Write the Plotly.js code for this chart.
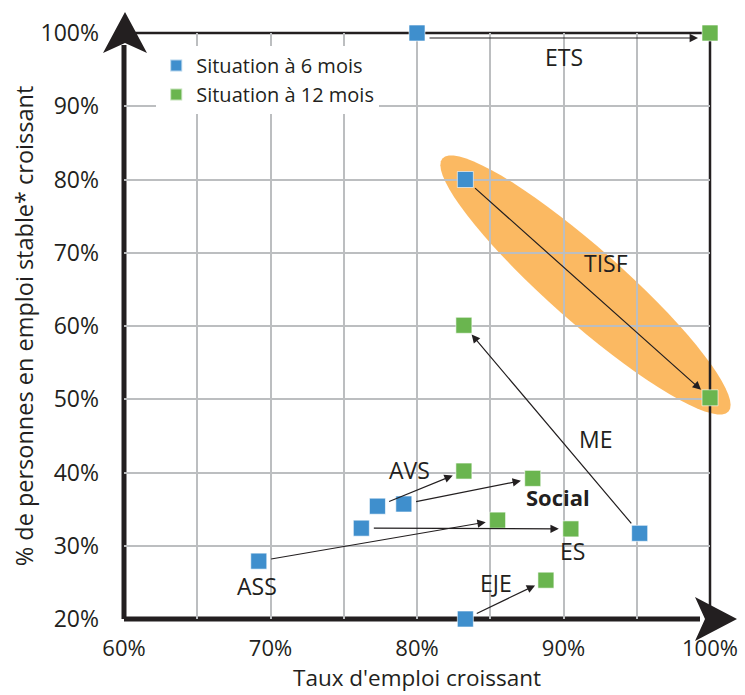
<!DOCTYPE html>
<html>
<head>
<meta charset="utf-8">
<script src="https://cdn.plot.ly/plotly-3.0.1.min.js"></script>
<style>html,body{margin:0;padding:0;background:#fff;}#chart{width:745px;height:695px;}</style>
</head>
<body>
<div id="chart"></div>
<script>
// ---- data ----
const categories = ['ETS', 'TISF', 'ME', 'AVS', 'Social', 'ASS', 'ES', 'EJE'];
const x6  = [80.0, 83.3, 95.2, 77.3, 79.1, 69.2, 76.2, 83.3];
const y6  = [100.0, 80.0, 31.7, 35.4, 35.7, 27.9, 32.4, 20.0];
const x12 = [100.0, 100.0, 83.2, 83.2, 87.9, 85.5, 90.5, 88.8];
const y12 = [100.0, 50.2, 60.1, 40.2, 39.2, 33.5, 32.3, 25.3];
const seriesNames = ['Situation à 6 mois', 'Situation à 12 mois'];
const xTickVals = [60, 70, 80, 90, 100];
const yTickVals = [20, 30, 40, 50, 60, 70, 80, 90, 100];

// ---- layout config ----
const W = 745, H = 695;
const M = {l: 124, r: 35, t: 33, b: 76};
const XR = [60, 100], YR = [20, 100];
const plotW = W - M.l - M.r, plotH = H - M.t - M.b;
const pxX = plotW / (XR[1] - XR[0]), pxY = plotH / (YR[1] - YR[0]);
const txt = '#231f20';
const FONT = 'Open Sans, sans-serif';

const labelPos = {
  ETS: [90.0, 96.7], TISF: [92.9, 68.6], ME: [92.2, 44.6], AVS: [79.5, 40.4],
  Social: [89.6, 36.7], ES: [90.6, 29.3], ASS: [69.1, 24.5], EJE: [85.4, 24.9]
};

const traces = [
  {x: x6, y: y6, text: categories, name: seriesNames[0], type: 'scatter', mode: 'markers',
   cliponaxis: false, hoverinfo: 'text+x+y',
   marker: {symbol: 'square', size: 16, color: '#3f8fcd', line: {color: 'rgba(255,255,255,0.6)', width: 1}}},
  {x: x12, y: y12, text: categories, name: seriesNames[1], type: 'scatter', mode: 'markers',
   cliponaxis: false, hoverinfo: 'text+x+y',
   marker: {symbol: 'square', size: 16, color: '#6ab54f', line: {color: 'rgba(255,255,255,0.6)', width: 1}}}
];

const annotations = [];
categories.forEach((c, i) => {
  annotations.push({
    x: x12[i], y: y12[i], ax: x6[i], ay: y6[i], xref: 'x', yref: 'y', axref: 'x', ayref: 'y',
    text: '', showarrow: true, arrowhead: 2, arrowsize: 1.4, arrowwidth: 1.2, arrowcolor: '#231f20',
    standoff: 12, startstandoff: 11, yshift: c === 'ETS' ? -5 : 0
  });
  annotations.push({
    x: labelPos[c][0], y: labelPos[c][1], xref: 'x', yref: 'y', showarrow: false,
    text: c === 'Social' ? '<b>' + c + '</b>' : c,
    font: {family: FONT, size: c === 'Social' ? 22 : 23, color: txt}
  });
});

// rotated ellipse around the TISF move (drawn in paper coords so it is not clipped)
const ell = {cx: 91.5, cy: 65.6, a: 191, b: 37, ang: 41.5};
const toPaperX = v => (v - XR[0]) / (XR[1] - XR[0]);
const toPaperY = v => (v - YR[0]) / (YR[1] - YR[0]);
let path = '';
const th = ell.ang * Math.PI / 180;
for (let k = 0; k <= 72; k++) {
  const t = 2 * Math.PI * k / 72;
  const u = ell.a * Math.cos(t), v = ell.b * Math.sin(t);
  const dx = u * Math.cos(th) - v * Math.sin(th);
  const dy = u * Math.sin(th) + v * Math.cos(th);
  const xx = ell.cx + dx / pxX, yy = ell.cy - dy / pxY;
  path += (k === 0 ? 'M' : 'L') + toPaperX(xx).toFixed(4) + ',' + toPaperY(yy).toFixed(4);
}
path += 'Z';

const px2paperX = p => (p - M.l) / plotW;
const px2paperY = p => (H - M.b - p) / plotH;
const shapes = [
  {type: 'path', xref: 'paper', yref: 'paper', path: path, fillcolor: '#fbb962', line: {width: 0}, layer: 'below'},
  // frame
  {type: 'line', xref: 'paper', yref: 'paper', x0: 0, x1: 1, y0: 1, y1: 1, line: {color: '#231f20', width: 2.5}, layer: 'between'},
  {type: 'line', xref: 'paper', yref: 'paper', x0: 1, x1: 1, y0: 0, y1: 1, line: {color: '#231f20', width: 2.5}, layer: 'between'},
  // thick axes
  {type: 'line', xref: 'paper', yref: 'paper', x0: 0, x1: 0, y0: 0, y1: px2paperY(45), line: {color: '#231f20', width: 5}, layer: 'between'},
  {type: 'line', xref: 'paper', yref: 'paper', x0: 0, x1: px2paperX(700), y0: 0, y1: 0, line: {color: '#231f20', width: 5}, layer: 'between'},
  // arrowheads
  {type: 'path', xref: 'paper', yref: 'paper', fillcolor: '#231f20', line: {width: 0}, layer: 'above',
   path: 'M' + px2paperX(125) + ',' + px2paperY(12) + ' L' + px2paperX(147) + ',' + px2paperY(53) +
         ' L' + px2paperX(125) + ',' + px2paperY(43) + ' L' + px2paperX(103) + ',' + px2paperY(53) + ' Z'},
  {type: 'path', xref: 'paper', yref: 'paper', fillcolor: '#231f20', line: {width: 0}, layer: 'above',
   path: 'M' + px2paperX(737) + ',' + px2paperY(619) + ' L' + px2paperX(695) + ',' + px2paperY(641) +
         ' L' + px2paperX(705) + ',' + px2paperY(619) + ' L' + px2paperX(695) + ',' + px2paperY(597) + ' Z'}
];

const layout = {
  width: W, height: H, margin: M,
  paper_bgcolor: '#fff', plot_bgcolor: 'rgba(0,0,0,0)',
  font: {family: FONT, color: txt},
  showlegend: true,
  legend: {x: 0.055, y: 0.978, xanchor: 'left', yanchor: 'top', bgcolor: '#fff',
           font: {family: FONT, size: 20, color: txt}, tracegroupgap: 0, itemsizing: 'constant'},
  xaxis: {range: XR, tickvals: xTickVals, ticktext: xTickVals.map(v => v + '%'),
          showgrid: true, gridcolor: '#bcbec0', gridwidth: 2, zeroline: false, showline: false,
          ticks: '', ticklabelstandoff: 14, tickfont: {family: FONT, size: 22, color: txt},
          minor: {dtick: 5, showgrid: true, gridcolor: '#bcbec0', gridwidth: 2},
          title: {text: "Taux d'emploi croissant", font: {family: FONT, size: 22.5, color: txt}, standoff: 3},
          fixedrange: true},
  yaxis: {range: YR, tickvals: yTickVals, ticktext: yTickVals.map(v => v + '%'),
          showgrid: true, gridcolor: '#bcbec0', gridwidth: 2, zeroline: false, showline: false,
          ticks: '', ticklabelstandoff: 24, tickfont: {family: FONT, size: 23, color: txt},
          title: {text: '% de personnes en emploi stable* croissant', font: {family: FONT, size: 23.5, color: txt}, standoff: 0},
          fixedrange: true},
  shapes: shapes,
  annotations: annotations
};

Plotly.newPlot('chart', traces, layout, {displayModeBar: false, staticPlot: true});
</script>
</body>
</html>
